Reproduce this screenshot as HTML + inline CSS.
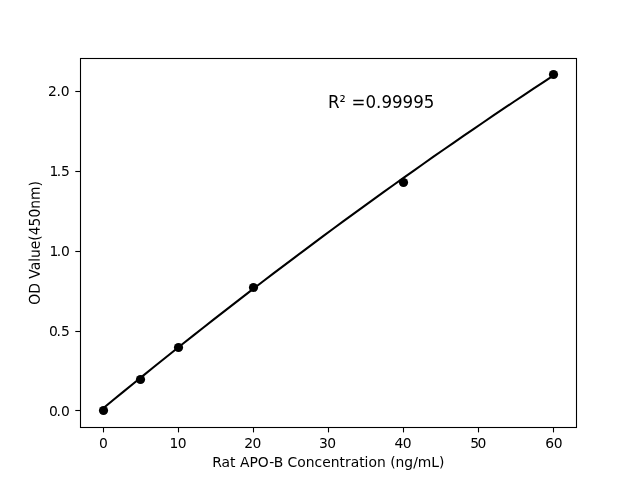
<!DOCTYPE html>
<html lang="en"><head><meta charset="utf-8"><title>Rat APO-B standard curve</title>
<style>
html,body{margin:0;padding:0;background:#fff;}
body{width:640px;height:480px;overflow:hidden;}
svg{display:block;}
text{font-family:"DejaVu Sans","Liberation Sans",sans-serif;fill:#000;}
.t{font-size:13.89px;}
.a{font-size:16.67px;}
</style></head><body>
<svg width="640" height="480" viewBox="0 0 640 480">
<rect width="640" height="480" fill="#fff"/>
<rect x="80.5" y="58.5" width="496.0" height="369.0" fill="none" stroke="#000" stroke-width="1.1"/>
<line x1="103.5" y1="427.5" x2="103.5" y2="432.4" stroke="#000" stroke-width="1.1"/>
<text class="t" x="103.5" y="448" text-anchor="middle">0</text>
<line x1="178.5" y1="427.5" x2="178.5" y2="432.4" stroke="#000" stroke-width="1.1"/>
<text class="t" x="178.0" y="448" dx="0 -0.6" text-anchor="middle">10</text>
<line x1="253.5" y1="427.5" x2="253.5" y2="432.4" stroke="#000" stroke-width="1.1"/>
<text class="t" x="252.85" y="448" dx="0 -0.6" text-anchor="middle">20</text>
<line x1="328.5" y1="427.5" x2="328.5" y2="432.4" stroke="#000" stroke-width="1.1"/>
<text class="t" x="327.6" y="448" dx="0 -0.6" text-anchor="middle">30</text>
<line x1="403.5" y1="427.5" x2="403.5" y2="432.4" stroke="#000" stroke-width="1.1"/>
<text class="t" x="403.0" y="448" dx="0 -0.6" text-anchor="middle">40</text>
<line x1="478.5" y1="427.5" x2="478.5" y2="432.4" stroke="#000" stroke-width="1.1"/>
<text class="t" x="478.3" y="448" dx="0 -1.4" text-anchor="middle">50</text>
<line x1="553.5" y1="427.5" x2="553.5" y2="432.4" stroke="#000" stroke-width="1.1"/>
<text class="t" x="553.95" y="448" dx="0 -0.3" text-anchor="middle">60</text>
<line x1="75.3" y1="410.5" x2="80.5" y2="410.5" stroke="#000" stroke-width="1.1"/>
<text class="t" x="69.7" y="416" dx="0.15 -1.2" text-anchor="end">0.0</text>
<line x1="75.3" y1="331.5" x2="80.5" y2="331.5" stroke="#000" stroke-width="1.1"/>
<text class="t" x="69.7" y="336" dx="0.15 -1.2" text-anchor="end">0.5</text>
<line x1="75.3" y1="251.5" x2="80.5" y2="251.5" stroke="#000" stroke-width="1.1"/>
<text class="t" x="69.7" y="256" dx="0.2 -1.6" text-anchor="end">1.0</text>
<line x1="75.3" y1="171.5" x2="80.5" y2="171.5" stroke="#000" stroke-width="1.1"/>
<text class="t" x="69.7" y="176" dx="0.2 -1.6" text-anchor="end">1.5</text>
<line x1="75.3" y1="91.5" x2="80.5" y2="91.5" stroke="#000" stroke-width="1.1"/>
<text class="t" x="69.7" y="96" dx="0 -0.3" text-anchor="end">2.0</text>
<path d="M103.50,407.99 L113.50,399.77 L123.50,391.59 L133.50,383.45 L143.50,375.34 L153.50,367.28 L163.50,359.25 L173.50,351.25 L183.50,343.30 L193.50,335.38 L203.50,327.51 L213.50,319.66 L223.50,311.86 L233.50,304.10 L243.50,296.37 L253.50,288.68 L263.50,281.03 L273.50,273.41 L283.50,265.84 L293.50,258.30 L303.50,250.80 L313.50,243.33 L323.50,235.91 L333.50,228.52 L343.50,221.17 L353.50,213.86 L363.50,206.58 L373.50,199.35 L383.50,192.15 L393.50,184.99 L403.50,177.86 L413.50,170.78 L423.50,163.73 L433.50,156.72 L443.50,149.75 L453.50,142.82 L463.50,135.92 L473.50,129.06 L483.50,122.24 L493.50,115.46 L503.50,108.71 L513.50,102.01 L523.50,95.34 L533.50,88.70 L543.50,82.11 L553.50,75.55" fill="none" stroke="#000" stroke-width="2.08" stroke-linecap="square" stroke-linejoin="round"/>
<circle cx="103.5" cy="410.5" r="4.6" fill="#000"/>
<circle cx="140.5" cy="379.5" r="4.6" fill="#000"/>
<circle cx="178.5" cy="347.5" r="4.6" fill="#000"/>
<circle cx="253.5" cy="287.5" r="4.6" fill="#000"/>
<circle cx="403.5" cy="182.5" r="4.6" fill="#000"/>
<circle cx="553.5" cy="74.5" r="4.6" fill="#000"/>
<text class="t" x="328.4" y="467" text-anchor="middle">Rat APO-B Concentration (ng/mL)</text>
<text class="t" transform="translate(39.8,242.9) rotate(-89.9) scale(1,1.07)" text-anchor="middle">OD Value(450nm)</text>
<text class="a" transform="translate(328,108) scale(1,1.07)">R<tspan font-size="15.58">²</tspan><tspan dx="0.44"> =0.99995</tspan></text>
</svg></body></html>
